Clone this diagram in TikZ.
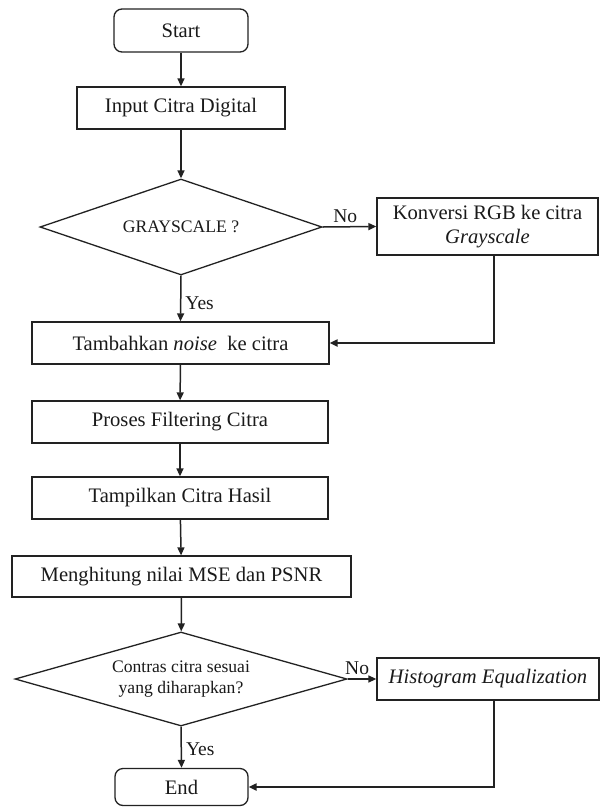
\documentclass[tikz,border=0pt]{standalone}
\usepackage{fontspec}
\setmainfont{Liberation Serif}
\usetikzlibrary{shapes.geometric,arrows.meta}
\definecolor{linec}{HTML}{222222}
\definecolor{txt}{HTML}{1A1A1A}
\begin{document}
\begin{tikzpicture}[x=1pt,y=-1pt,
  box/.style={draw=linec, line width=1.3pt, rectangle, inner sep=0pt, minimum height=42pt,
    font=\fontsize{20.6}{24.5}\selectfont, text=txt, align=center},
  term/.style={box, rounded corners=8pt},
  dec/.style={draw=linec, line width=1.3pt, diamond, aspect=3, inner sep=0pt,
    font=\fontsize{17.6}{21}\selectfont, text=txt, align=center},
  arr/.style={draw=linec, line width=1.5pt, -{Triangle[length=8pt,width=7pt]}},
  back/.style={arr, line width=2pt},
  lbl/.style={font=\fontsize{19.5}{22}\selectfont, text=txt, inner sep=0pt}]
\useasboundingbox (0,0) rectangle (600,807);
\fill[white] (0,0) rectangle (600,807);

\node[term, minimum width=134pt, minimum height=43pt] (start) at (181,30.5) {Start};
\node[box, minimum width=208pt] (input) at (181,108) {Input Citra Digital};
\node[dec, minimum width=282pt, minimum height=96pt] (dec1) at (181,227) {GRAYSCALE ?};
\node[box, minimum width=221pt, minimum height=57pt] (konv) at (487.5,226.5) {Konversi RGB ke citra\\\textit{Grayscale}};
\node[box, minimum width=297pt] (tamb) at (180.5,343) {Tambahkan \textit{noise}\ \ ke citra};
\node[box, minimum width=296pt] (proses) at (180,422) {Proses Filtering Citra};
\node[box, minimum width=296pt] (tampil) at (180,498) {Tampilkan Citra Hasil};
\node[box, minimum width=339pt, minimum height=41pt] (hitung) at (181.5,576.5) {Menghitung nilai MSE dan PSNR};
\node[dec, minimum width=332pt, minimum height=94pt] (dec2) at (181,679) {Contras citra sesuai\\yang diharapkan?};
\node[box, minimum width=222pt] (hist) at (488,679) {\textit{Histogram Equalization}};
\node[term, minimum width=133pt, minimum height=37pt] (end) at (181.5,787) {End};

\draw[arr] (start) -- (input);
\draw[arr] (input) -- (dec1);
\draw[arr] (dec1.east) -- node[lbl, above=3pt, pos=0.42] {No} (konv.west);
\draw[arr] (dec1.south) -- node[lbl, right=4pt, pos=0.6] {Yes} (tamb.north);
\draw[back] ([xshift=6.5pt]konv.south) |- (tamb.east);
\draw[arr] (tamb) -- (proses);
\draw[arr] (proses) -- (tampil);
\draw[arr] (tampil) -- (hitung);
\draw[arr] (hitung) -- (dec2);
\draw[arr] (dec2.east) -- node[lbl, above=4pt, pos=0.33] {No} (hist.west);
\draw[arr] (dec2.south) -- node[lbl, right=4pt, pos=0.55] {Yes} (end.north);
\draw[back] ([xshift=6pt]hist.south) |- (end.east);
\end{tikzpicture}
\end{document}
